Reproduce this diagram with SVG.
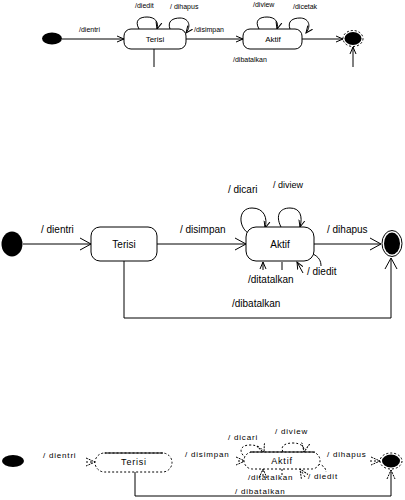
<svg xmlns="http://www.w3.org/2000/svg" width="405" height="500" viewBox="0 0 405 500">
<defs>
<style>
.l{fill:none;stroke:#000;stroke-width:1}
.d{fill:none;stroke:#000;stroke-width:1;stroke-dasharray:2,2}
.box{fill:#fff;stroke:#000;stroke-width:1}
.dbox{fill:#fff;stroke:#000;stroke-width:1;stroke-dasharray:2,2}
.t{font-family:"Liberation Sans",Arial,sans-serif;fill:#000}
.s7{font-size:7px}
.s8{font-size:8px}
.s9{font-size:9px}
.s10{font-size:10px}
</style>
<marker id="a" markerUnits="userSpaceOnUse" markerWidth="12" markerHeight="14" refX="11" refY="7" orient="auto"><path d="M0,1 L11,7 L0,13" fill="none" stroke="#000"/></marker>
<marker id="as" markerUnits="userSpaceOnUse" markerWidth="8" markerHeight="8" refX="7" refY="4" orient="auto"><path d="M0,1 L7,4 L0,7" fill="none" stroke="#000"/></marker>
<marker id="ad" markerUnits="userSpaceOnUse" markerWidth="10" markerHeight="10" refX="9" refY="5" orient="auto"><path d="M0,1 L9,5 L0,9" fill="none" stroke="#000" stroke-dasharray="2,1"/></marker>
</defs>
<rect width="405" height="500" fill="#fff"/>

<!-- ===== TOP DIAGRAM ===== -->
<g id="connectors-top">
<line class="l" x1="62" y1="39" x2="124" y2="39" marker-end="url(#as)"/>
<line class="l" x1="186" y1="39" x2="243" y2="39" marker-end="url(#as)"/>
<line class="l" x1="302" y1="39" x2="343" y2="39" marker-end="url(#as)"/>
<line class="l" x1="154" y1="49" x2="154" y2="67"/>
<line class="l" x1="353" y1="67" x2="353" y2="47" marker-end="url(#as)"/>
<path class="l" d="M139,29 C134,20 140,17 147,17 C155,17 159,22 157,29" marker-end="url(#as)"/>
<path class="l" d="M170,29 C167,21 173,18 180,18 C188,18 192,25 186,33" marker-end="url(#as)"/>
<path class="l" d="M259,29 C254,20 260,17 267,17 C275,17 279,22 277,29" marker-end="url(#as)"/>
<path class="l" d="M290,29 C287,21 293,18 300,18 C308,18 312,25 306,33" marker-end="url(#as)"/>
<text class="t s7" x="79" y="32">/dientri</text>
<text class="t s7" x="135" y="8">/diedit</text>
<text class="t s7" x="170" y="9">/ dihapus</text>
<text class="t s7" x="194" y="32">/disimpan</text>
<text class="t s7" x="253" y="7">/diview</text>
<text class="t s7" x="293" y="9">/dicetak</text>
<text class="t s7" x="233" y="62">/dibatalkan</text>
</g>
<g id="initial-top"><ellipse cx="52" cy="38.5" rx="10" ry="6" fill="#000"/></g>
<g id="terisi-top"><rect class="box" x="124" y="29" width="62" height="20" rx="7"/><text class="t s8" x="155" y="42" text-anchor="middle">Terisi</text></g>
<g id="aktif-top"><rect class="box" x="243" y="29" width="59" height="20" rx="7"/><text class="t s8" x="273" y="42" text-anchor="middle">Aktif</text></g>
<g id="final-top"><ellipse class="d" cx="353" cy="38.5" rx="10" ry="8"/><ellipse cx="353" cy="38.5" rx="8.5" ry="6.5" fill="#000"/></g>

<!-- ===== MIDDLE DIAGRAM ===== -->
<g id="connectors-mid">
<line class="l" x1="23" y1="244" x2="91" y2="244" marker-end="url(#a)"/>
<line class="l" x1="157" y1="244" x2="246" y2="244" marker-end="url(#a)"/>
<line class="l" x1="314" y1="244" x2="381" y2="244" marker-end="url(#a)"/>
<polyline class="l" points="124,261 124,318 391,318 391,258" marker-end="url(#a)"/>
<path class="l" d="M248,233 C238,226 238,208 252,208 C264,208 268,218 265,228" marker-end="url(#as)"/>
<path class="l" d="M281,227 C275,215 280,208 290,208 C300,208 303,216 300,227" marker-end="url(#as)"/>
<line class="l" x1="263" y1="270" x2="263" y2="262" marker-end="url(#as)"/>
<line class="l" x1="282" y1="262" x2="282" y2="270"/>
<line class="l" x1="303" y1="273" x2="297" y2="262" marker-end="url(#as)"/>
<path class="l" d="M313,254 C319,257 321,261 321,266"/>
<text class="t s10" x="41" y="233">/ dientri</text>
<text class="t s10" x="180" y="233">/ disimpan</text>
<text class="t s10" x="327" y="233">/ dihapus</text>
<text class="t s10" x="228" y="193">/ dicari</text>
<text class="t s9" x="273" y="188">/ diview</text>
<text class="t s10" x="248" y="283">/ditatalkan</text>
<text class="t s10" x="307" y="275">/ diedit</text>
<text class="t s10" x="232" y="307">/dibatalkan</text>
</g>
<g id="initial-mid"><ellipse cx="12" cy="244" rx="10.5" ry="12.5" fill="#000"/></g>
<g id="terisi-mid"><rect class="box" x="91" y="227" width="66" height="34" rx="9"/><text class="t s10" x="124" y="248" text-anchor="middle">Terisi</text></g>
<g id="aktif-mid"><rect class="box" x="246" y="227" width="68" height="34" rx="10"/><text class="t s10" x="280" y="248" text-anchor="middle">Aktif</text></g>
<g id="final-mid"><ellipse class="l" cx="392" cy="243.5" rx="10" ry="13"/><ellipse cx="392" cy="243.5" rx="8" ry="11" fill="#000"/></g>

<!-- ===== BOTTOM DIAGRAM ===== -->
<g id="connectors-bot">
<line class="d" x1="86" y1="462" x2="95" y2="462" marker-end="url(#ad)"/>
<line class="d" x1="238" y1="461" x2="245" y2="461" marker-end="url(#ad)"/>
<line class="d" x1="370" y1="461" x2="380" y2="461" marker-end="url(#ad)"/>
<polyline class="l" points="135,472 135,496 391,496 391,470" marker-end="url(#ad)"/>
<path class="d" d="M246,458 C238,452 240,445 250,445 C258,445 262,448 264,453" marker-end="url(#ad)"/>
<path class="d" d="M283,452 C280,446 285,443 293,443 C301,443 305,447 304,452" marker-end="url(#ad)"/>
<line class="d" x1="263" y1="476" x2="263" y2="469" marker-end="url(#ad)"/>
<line class="d" x1="282" y1="469" x2="282" y2="476"/>
<line class="d" x1="305" y1="477" x2="300" y2="469" marker-end="url(#ad)"/>
<path class="d" d="M318,464 C323,465 326,468 326,472"/>
<text class="t s8" x="43" y="458" letter-spacing="0.8">/ dientri</text>
<text class="t s8" x="185" y="457" letter-spacing="0.8">/ disimpan</text>
<text class="t s8" x="327" y="457" letter-spacing="0.8">/ dihapus</text>
<text class="t s8" x="228" y="440" letter-spacing="0.8">/ dicari</text>
<text class="t s8" x="275" y="434" letter-spacing="0.8">/ diview</text>
<text class="t s8" x="248" y="480" letter-spacing="0.8">/ditatalkan</text>
<text class="t s8" x="308" y="479" letter-spacing="0.8">/ diedit</text>
<text class="t s8" x="235" y="494" letter-spacing="0.8">/ dibatalkan</text>
</g>
<g id="initial-bot"><ellipse cx="13" cy="461" rx="11" ry="6" fill="#000"/></g>
<g id="terisi-bot"><rect class="dbox" x="95" y="453" width="77" height="19" rx="9.5"/><line class="l" x1="105" y1="453" x2="163" y2="453"/><text class="t s9" x="134" y="465" text-anchor="middle" letter-spacing="0.8">Terisi</text></g>
<g id="aktif-bot"><rect class="dbox" x="244" y="452" width="76" height="17" rx="8.5"/><line class="l" x1="250" y1="452" x2="315" y2="452"/><text class="t s9" x="282" y="464" text-anchor="middle" letter-spacing="0.8">Aktif</text></g>
<g id="final-bot"><ellipse class="d" cx="391" cy="461" rx="11" ry="8"/><ellipse cx="391" cy="461" rx="9" ry="6.5" fill="#000"/></g>
</svg>
